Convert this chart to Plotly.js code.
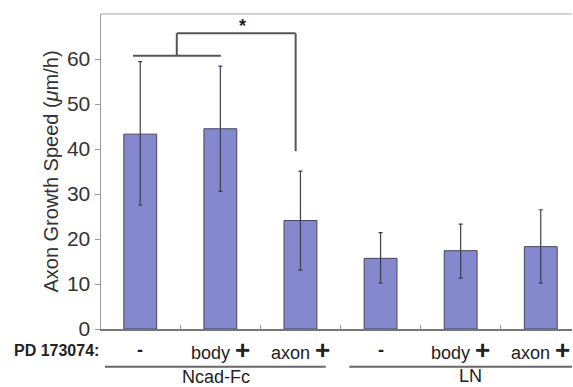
<!DOCTYPE html>
<html>
<head>
<meta charset="utf-8">
<script src="https://cdn.plot.ly/plotly-3.0.1.min.js"></script>
<style>html,body{margin:0;padding:0;background:#fff;}#chart{width:573px;height:387px;}</style>
</head>
<body>
<div id="chart"></div>
<script>
const treatments = ["-", "body", "axon", "-", "body", "axon"];
const groups = ["Ncad-Fc", "LN"];
const speeds = [43.3, 44.5, 24.1, 15.7, 17.4, 18.3];
const errUp = [16.1, 13.9, 11.0, 5.7, 5.9, 8.2];
const errDown = [15.8, 13.9, 11.0, 5.5, 6.1, 8.1];
const yTicks = [0, 10, 20, 30, 40, 50, 60];

const xs = speeds.map((v, i) => i);
const FONT = "Liberation Sans, Arial, sans-serif";

const trace = {
  type: "bar",
  x: xs,
  y: speeds,
  width: 0.41,
  marker: {color: "#8488cc", line: {color: "#45465f", width: 1}},
  error_y: {type: "data", symmetric: false, array: errUp, arrayminus: errDown,
            color: "#3c3d55", thickness: 1.2, width: 2}
};

const annotations = [];
treatments.forEach((t, i) => {
  const txt = t === "-" ? "<b>-</b>" : t + " <span style='font-size:26px'><b>+</b></span>";
  annotations.push({x: i, y: -0.067, xref: "x", yref: "paper", text: txt, showarrow: false,
    font: {family: FONT, size: 18, color: "#222"}, xanchor: "center", yanchor: "middle"});
});
annotations.push({x: -0.0955, y: -0.067, xref: "paper", yref: "paper", text: "<b>PD 173074:</b>",
  showarrow: false, font: {family: FONT, size: 16, color: "#222"}, xanchor: "center", yanchor: "middle"});
annotations.push({x: 0.94, y: -0.152, xref: "x", yref: "paper", text: groups[0], showarrow: false,
  font: {family: FONT, size: 18, color: "#222"}, xanchor: "center", yanchor: "middle"});
annotations.push({x: 4.12, y: -0.148, xref: "x", yref: "paper", text: groups[1], showarrow: false,
  font: {family: FONT, size: 18, color: "#222"}, xanchor: "center", yanchor: "middle"});
annotations.push({x: 1.28, y: 67.4, xref: "x", yref: "y", text: "<b>*</b>", showarrow: false,
  font: {family: FONT, size: 18, color: "#222"}, xanchor: "center", yanchor: "middle"});

const br = {color: "#555", width: 2};
const shapes = [
  {type: "line", xref: "x", yref: "y", x0: -0.09, x1: 1.006, y0: 60.7, y1: 60.7, line: br},
  {type: "line", xref: "x", yref: "y", x0: 0.456, x1: 0.456, y0: 60.7, y1: 65.7, line: br},
  {type: "line", xref: "x", yref: "y", x0: 0.456, x1: 1.94, y0: 65.7, y1: 65.7, line: br},
  {type: "line", xref: "x", yref: "y", x0: 1.94, x1: 1.94, y0: 65.7, y1: 39.5, line: br},
  {type: "line", xref: "x", yref: "paper", x0: -0.44, x1: 2.315, y0: -0.12, y1: -0.12, line: {color: "#666", width: 2}},
  {type: "line", xref: "x", yref: "paper", x0: 2.61, x1: 5.39, y0: -0.12, y1: -0.12, line: {color: "#666", width: 2}},
  {type: "line", xref: "paper", yref: "paper", x0: 0, x1: 1, y0: 1, y1: 1, line: {color: "#d4d4d4", width: 2}}
];

const layout = {
  width: 573, height: 387,
  margin: {l: 101, r: 1, t: 14, b: 58},
  paper_bgcolor: "#fff", plot_bgcolor: "#fff",
  showlegend: false,
  font: {family: FONT, color: "#333"},
  xaxis: {range: [-0.49, 5.39], showgrid: false, zeroline: false, showline: true, linecolor: "#777", linewidth: 2,
          tickvals: [0.5, 1.5, 2.5, 3.5, 4.5], ticktext: ["", "", "", "", ""], ticks: "inside", ticklen: 4,
          tickcolor: "#999", tickwidth: 1},
  yaxis: {range: [0, 70], showgrid: false, zeroline: false, showline: true, linecolor: "#999", linewidth: 1.5,
          tickvals: yTicks, ticks: "outside", ticklen: 5, tickcolor: "#999",
          tickfont: {family: FONT, size: 21, color: "#333"},
          title: {text: "Axon Growth Speed (<i>μ</i>m/h)", font: {family: FONT, size: 20, color: "#333"}, standoff: 3}},
  annotations: annotations,
  shapes: shapes
};

Plotly.newPlot("chart", [trace], layout, {displayModeBar: false, staticPlot: true});
</script>
</body>
</html>
